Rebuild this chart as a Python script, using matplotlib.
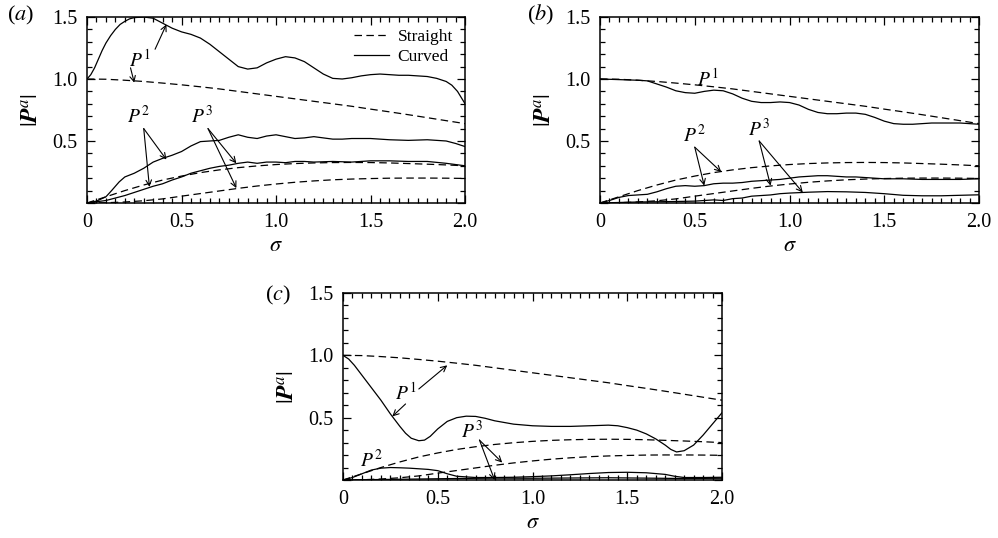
import matplotlib
matplotlib.use("Agg")
import matplotlib.pyplot as plt
from matplotlib.ticker import MultipleLocator, FixedLocator

plt.rcParams['font.family'] = ['Liberation Serif', 'DejaVu Serif']
plt.rcParams['mathtext.fontset'] = 'stix'

# straight pipe (dashed), same in every panel
sig_s = [0.0, 0.1, 0.2, 0.3, 0.4, 0.5, 0.6, 0.7, 0.8, 0.9, 1.0,
         1.1, 1.2, 1.3, 1.4, 1.5, 1.6, 1.7, 1.8, 1.9, 2.0]
straight_p1 = [1.0, 0.998, 0.99, 0.98, 0.967, 0.953, 0.937, 0.92, 0.90, 0.88, 0.86,
               0.84, 0.82, 0.80, 0.78, 0.757, 0.735, 0.712, 0.688, 0.664, 0.64]
straight_p2 = [0.0, 0.05, 0.10, 0.145, 0.185, 0.217, 0.245, 0.267, 0.285, 0.299, 0.31,
               0.318, 0.323, 0.326, 0.327, 0.326, 0.323, 0.318, 0.313, 0.307, 0.30]
straight_p3 = [0.0, 0.002, 0.008, 0.018, 0.033, 0.055, 0.076, 0.097, 0.118, 0.137, 0.153,
               0.167, 0.178, 0.187, 0.193, 0.197, 0.20, 0.201, 0.201, 0.20, 0.198]

# (a) curved
a_p1_sig = [0.0, 0.02, 0.04, 0.06, 0.08, 0.1, 0.125, 0.15, 0.175, 0.2, 0.225, 0.25, 0.3, 0.35,
            0.4, 0.45, 0.5, 0.55, 0.6, 0.65, 0.7, 0.75, 0.8, 0.85, 0.9, 0.95, 1.0, 1.05,
            1.1, 1.15, 1.2, 1.25, 1.3, 1.35, 1.4, 1.45, 1.5, 1.55, 1.6, 1.65, 1.7, 1.75,
            1.8, 1.85, 1.9, 1.93, 1.96, 2.0]
a_p1 = [1.0, 1.035, 1.09, 1.16, 1.23, 1.29, 1.35, 1.40, 1.44, 1.465, 1.485, 1.495, 1.50, 1.49,
        1.45, 1.41, 1.38, 1.36, 1.33, 1.28, 1.22, 1.16, 1.10, 1.08, 1.09, 1.13, 1.16, 1.18,
        1.17, 1.14, 1.09, 1.04, 1.005, 1.0, 1.01, 1.025, 1.035, 1.04, 1.035, 1.03, 1.03, 1.025,
        1.02, 1.005, 0.98, 0.95, 0.90, 0.80]
a_p2_sig = [0.0, 0.05, 0.1, 0.13, 0.17, 0.2, 0.25, 0.3, 0.35, 0.4, 0.45, 0.5, 0.55, 0.6,
            0.65, 0.7, 0.75, 0.8, 0.85, 0.9, 0.95, 1.0, 1.05, 1.1, 1.15, 1.2, 1.25, 1.3,
            1.35, 1.4, 1.5, 1.6, 1.7, 1.8, 1.9, 1.95, 2.0]
a_p2 = [0.0, 0.015, 0.05, 0.10, 0.17, 0.21, 0.24, 0.28, 0.33, 0.36, 0.385, 0.415, 0.46, 0.495,
        0.50, 0.505, 0.53, 0.55, 0.53, 0.52, 0.54, 0.55, 0.535, 0.52, 0.525, 0.535, 0.525, 0.515,
        0.515, 0.52, 0.52, 0.51, 0.505, 0.51, 0.50, 0.48, 0.455]
a_p3_sig = [0.0, 0.1, 0.15, 0.2, 0.25, 0.3, 0.35, 0.4, 0.45, 0.5, 0.55, 0.6, 0.65, 0.7,
            0.75, 0.8, 0.85, 0.9, 0.95, 1.0, 1.05, 1.1, 1.15, 1.2, 1.3, 1.4, 1.5, 1.6,
            1.7, 1.8, 1.9, 2.0]
a_p3 = [0.0, 0.02, 0.04, 0.06, 0.085, 0.11, 0.135, 0.155, 0.185, 0.21, 0.24, 0.26, 0.28, 0.295,
        0.305, 0.32, 0.33, 0.32, 0.33, 0.33, 0.325, 0.335, 0.335, 0.33, 0.335, 0.33, 0.34, 0.34,
        0.335, 0.335, 0.32, 0.30]

# (b) curved
b_p1_sig = [0.0, 0.1, 0.2, 0.25, 0.3, 0.35, 0.4, 0.45, 0.5, 0.55, 0.6, 0.65, 0.7, 0.75,
            0.8, 0.85, 0.9, 0.95, 1.0, 1.05, 1.1, 1.15, 1.2, 1.25, 1.3, 1.35, 1.4, 1.45,
            1.5, 1.55, 1.6, 1.65, 1.7, 1.75, 1.8, 1.85, 1.9, 1.95, 2.0]
b_p1 = [1.0, 0.995, 0.99, 0.985, 0.96, 0.935, 0.905, 0.89, 0.885, 0.90, 0.91, 0.905, 0.88, 0.845,
        0.82, 0.81, 0.81, 0.815, 0.81, 0.79, 0.755, 0.73, 0.72, 0.72, 0.725, 0.725, 0.715, 0.69,
        0.66, 0.64, 0.635, 0.635, 0.64, 0.645, 0.645, 0.645, 0.645, 0.64, 0.635]
b_p2_sig = [0.0, 0.05, 0.1, 0.15, 0.2, 0.25, 0.3, 0.35, 0.4, 0.45, 0.5, 0.55, 0.6, 0.65,
            0.7, 0.75, 0.8, 0.85, 0.9, 0.95, 1.0, 1.05, 1.1, 1.15, 1.2, 1.25, 1.3, 1.35,
            1.4, 1.5, 1.6, 1.7, 1.8, 1.9, 2.0]
b_p2 = [0.0, 0.02, 0.045, 0.06, 0.065, 0.07, 0.09, 0.115, 0.135, 0.14, 0.135, 0.14, 0.155, 0.16,
        0.16, 0.165, 0.175, 0.18, 0.185, 0.19, 0.20, 0.21, 0.215, 0.22, 0.22, 0.215, 0.21, 0.21,
        0.205, 0.195, 0.195, 0.19, 0.19, 0.19, 0.195]
b_p3_sig = [0.0, 0.2, 0.4, 0.5, 0.6, 0.65, 0.7, 0.75, 0.8, 0.85, 0.9, 0.95, 1.0, 1.1,
            1.2, 1.3, 1.4, 1.5, 1.6, 1.7, 1.8, 1.9, 2.0]
b_p3 = [0.0, 0.008, 0.012, 0.015, 0.025, 0.02, 0.035, 0.04, 0.055, 0.06, 0.065, 0.075, 0.08, 0.087,
        0.092, 0.09, 0.085, 0.075, 0.062, 0.058, 0.058, 0.062, 0.066]

# (c) curved
c_p1_sig = [0.0, 0.03, 0.06, 0.1, 0.15, 0.2, 0.25, 0.3, 0.33, 0.36, 0.4, 0.43, 0.46, 0.5,
            0.55, 0.6, 0.65, 0.7, 0.75, 0.8, 0.9, 1.0, 1.1, 1.2, 1.3, 1.4, 1.45, 1.5,
            1.55, 1.6, 1.65, 1.7, 1.73, 1.76, 1.8, 1.85, 1.9, 1.95, 2.0]
c_p1 = [1.0, 0.97, 0.92, 0.84, 0.74, 0.64, 0.53, 0.43, 0.375, 0.335, 0.315, 0.32, 0.35, 0.41,
        0.47, 0.50, 0.512, 0.51, 0.495, 0.475, 0.448, 0.435, 0.43, 0.43, 0.435, 0.44, 0.435, 0.42,
        0.40, 0.37, 0.33, 0.28, 0.245, 0.225, 0.235, 0.28, 0.36, 0.45, 0.54]
c_p2_sig = [0.0, 0.05, 0.1, 0.15, 0.2, 0.25, 0.3, 0.35, 0.4, 0.45, 0.5, 0.55, 0.6, 0.7,
            0.8, 0.9, 1.0, 1.1, 1.2, 1.3, 1.4, 1.5, 1.6, 1.7, 1.75, 1.8, 1.9, 2.0]
c_p2 = [0.0, 0.02, 0.05, 0.08, 0.095, 0.10, 0.098, 0.095, 0.09, 0.085, 0.075, 0.05, 0.03, 0.02,
        0.02, 0.022, 0.027, 0.033, 0.042, 0.052, 0.06, 0.062, 0.058, 0.045, 0.03, 0.02, 0.02, 0.022]
c_p3_sig = [0.0, 0.2, 0.4, 0.6, 0.8, 1.0, 1.2, 1.4, 1.6, 1.8, 2.0]
c_p3 = [0.0, 0.004, 0.008, 0.012, 0.015, 0.014, 0.016, 0.018, 0.015, 0.012, 0.014]

DASH = (0, (6, 3.5))
LW = 0.9


def style_axes(ax):
    ax.set_xlim(0, 2.0)
    ax.set_ylim(0, 1.5)
    ax.xaxis.set_major_locator(FixedLocator([0, 0.5, 1.0, 1.5, 2.0]))
    ax.xaxis.set_minor_locator(MultipleLocator(0.05))
    ax.yaxis.set_major_locator(FixedLocator([0, 0.5, 1.0, 1.5]))
    ax.yaxis.set_minor_locator(MultipleLocator(0.1))
    ax.set_xticklabels(['0', '0.5', '1.0', '1.5', '2.0'])
    ax.set_yticklabels(['', '0.5', '1.0', '1.5'])
    ax.tick_params(which='both', direction='in', top=True, right=True,
                   labelsize=14.5, width=0.9)
    ax.tick_params(which='major', length=6, pad=7)
    ax.tick_params(which='minor', length=3.5)
    for s in ax.spines.values():
        s.set_linewidth(1.1)
    ax.set_xlabel(r'$\sigma$', fontsize=16, labelpad=4)
    ax.set_ylabel(r'$|\mathbfit{P}^{a}|$', fontsize=17, labelpad=6)


def arrow(ax, txt_xy, tip_xy):
    ax.annotate('', xy=tip_xy, xytext=txt_xy,
                arrowprops=dict(arrowstyle='->', lw=0.8, color='black',
                                shrinkA=0, shrinkB=0, mutation_scale=10))


def plot_panel(ax, curved):
    ax.plot(sig_s, straight_p1, color='black', lw=LW, ls=DASH, label='Straight')
    ax.plot(sig_s, straight_p2, color='black', lw=LW, ls=DASH)
    ax.plot(sig_s, straight_p3, color='black', lw=LW, ls=DASH)
    first = True
    for s, v in curved:
        ax.plot(s, v, color='black', lw=LW, label='Curved' if first else None)
        first = False


fig = plt.figure(figsize=(9.98, 5.38), dpi=100)
ax_a = fig.add_axes([0.0872, 0.6227, 0.3788, 0.3457])
ax_b = fig.add_axes([0.6012, 0.6227, 0.3798, 0.3457])
ax_c = fig.add_axes([0.3437, 0.1078, 0.3798, 0.3476])

plot_panel(ax_a, [(a_p1_sig, a_p1), (a_p2_sig, a_p2), (a_p3_sig, a_p3)])
plot_panel(ax_b, [(b_p1_sig, b_p1), (b_p2_sig, b_p2), (b_p3_sig, b_p3)])
plot_panel(ax_c, [(c_p1_sig, c_p1), (c_p2_sig, c_p2), (c_p3_sig, c_p3)])

for ax in (ax_a, ax_b, ax_c):
    style_axes(ax)

# panel tags
fig.text(21 / 998, 1 - 15 / 538, r'($a$)', fontsize=16, ha='center', va='center')
fig.text(541 / 998, 1 - 15 / 538, r'($b$)', fontsize=16, ha='center', va='center')
fig.text(278 / 998, 1 - 295 / 538, r'($c$)', fontsize=16, ha='center', va='center')

ax_a.legend(loc='upper right', frameon=False, fontsize=12.5, handlelength=2.0,
            borderaxespad=0.3, labelspacing=0.2, handletextpad=0.5)

# annotations (a)
ax_a.text(0.28, 1.16, r'$P^1$', fontsize=14, ha='center', va='center')
arrow(ax_a, (0.36, 1.24), (0.42, 1.44))
arrow(ax_a, (0.23, 1.09), (0.25, 0.97))
ax_a.text(0.27, 0.70, r'$P^2$', fontsize=14, ha='center', va='center')
arrow(ax_a, (0.30, 0.60), (0.42, 0.35))
arrow(ax_a, (0.30, 0.60), (0.33, 0.13))
ax_a.text(0.61, 0.70, r'$P^3$', fontsize=14, ha='center', va='center')
arrow(ax_a, (0.64, 0.60), (0.79, 0.32))
arrow(ax_a, (0.64, 0.60), (0.79, 0.12))

# annotations (b)
ax_b.text(0.57, 1.0, r'$P^1$', fontsize=14, ha='center', va='center')
ax_b.text(0.50, 0.55, r'$P^2$', fontsize=14, ha='center', va='center')
arrow(ax_b, (0.50, 0.45), (0.55, 0.14))
arrow(ax_b, (0.50, 0.45), (0.64, 0.25))
ax_b.text(0.84, 0.60, r'$P^3$', fontsize=14, ha='center', va='center')
arrow(ax_b, (0.84, 0.50), (0.90, 0.14))
arrow(ax_b, (0.84, 0.50), (1.07, 0.085))

# annotations (c)
ax_c.text(0.33, 0.70, r'$P^1$', fontsize=14, ha='center', va='center')
arrow(ax_c, (0.40, 0.73), (0.55, 0.92))
arrow(ax_c, (0.33, 0.61), (0.26, 0.51))
ax_c.text(0.15, 0.16, r'$P^2$', fontsize=14, ha='center', va='center')
ax_c.text(0.68, 0.39, r'$P^3$', fontsize=14, ha='center', va='center')
arrow(ax_c, (0.72, 0.32), (0.84, 0.14))
arrow(ax_c, (0.72, 0.32), (0.80, 0.0))

fig.savefig('out.png', dpi=100)
